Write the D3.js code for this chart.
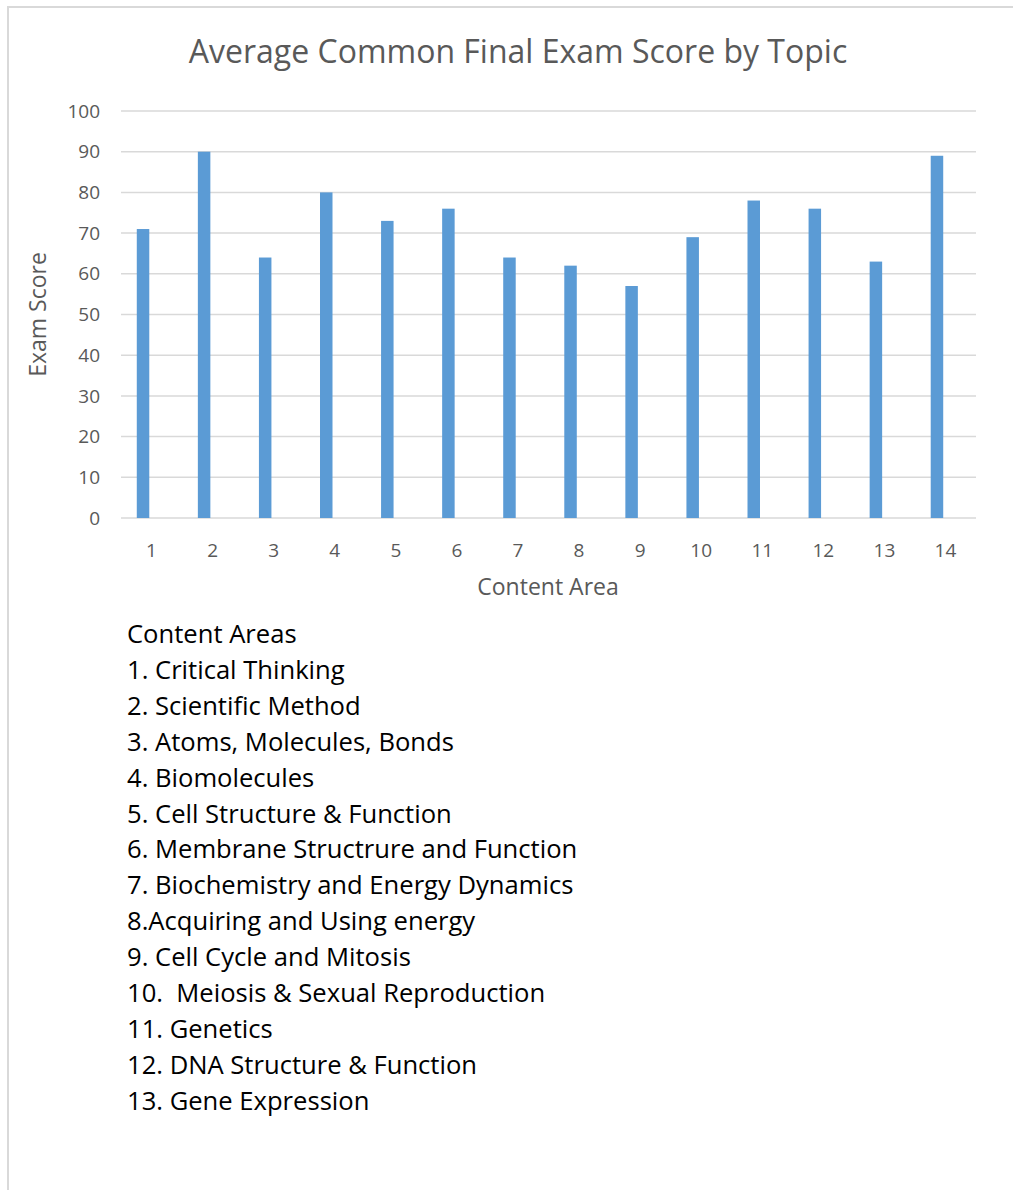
<!DOCTYPE html>
<html>
<head>
<meta charset="utf-8">
<script src="https://cdn.jsdelivr.net/npm/d3@7"></script>
<style>
  body { margin: 0; background: #fff; }
  text { font-family: "Open Sans", Lato, sans-serif; }
</style>
</head>
<body>
<div id="chart"></div>
<script>
// chart data
var topics = ["1","2","3","4","5","6","7","8","9","10","11","12","13","14"];
var scores = [71, 90, 64, 80, 73, 76, 64, 62, 57, 69, 78, 76, 63, 89];
var yTicks = [0, 10, 20, 30, 40, 50, 60, 70, 80, 90, 100];
var legendLines = [
  "Content Areas",
  "1. Critical Thinking",
  "2. Scientific Method",
  "3. Atoms, Molecules, Bonds",
  "4. Biomolecules",
  "5. Cell Structure & Function",
  "6. Membrane Structrure and Function",
  "7. Biochemistry and Energy Dynamics",
  "8.Acquiring and Using energy",
  "9. Cell Cycle and Mitosis",
  "10.  Meiosis & Sexual Reproduction",
  "11. Genetics",
  "12. DNA Structure & Function",
  "13. Gene Expression"
];

var W = 1013, H = 1190;
var svg = d3.select("#chart").append("svg")
  .attr("width", W).attr("height", H);

// outer frame (top and left edge only visible)
svg.append("line").attr("x1", 7).attr("x2", W).attr("y1", 7).attr("y2", 7)
  .attr("stroke", "#d9d9d9").attr("stroke-width", 2);
svg.append("line").attr("x1", 8).attr("x2", 8).attr("y1", 7).attr("y2", H)
  .attr("stroke", "#d9d9d9").attr("stroke-width", 2);

var plot = {left: 121, right: 976, top: 111, bottom: 518};

var x = d3.scaleBand().domain(topics).range([plot.left, plot.right]);
var y = d3.scaleLinear().domain([0, 100]).range([plot.bottom, plot.top]);

// gridlines
svg.append("g").selectAll("line").data(yTicks).join("line")
  .attr("x1", plot.left).attr("x2", plot.right)
  .attr("y1", d => y(d)).attr("y2", d => y(d))
  .attr("stroke", "#d9d9d9").attr("stroke-width", 1.5);

// y labels
svg.append("g").selectAll("text").data(yTicks).join("text")
  .attr("x", 100).attr("y", d => y(d))
  .attr("dy", "0.35em")
  .attr("text-anchor", "end")
  .attr("fill", "#595959").attr("font-size", 19)
  .text(d => d);

// bars
var barW = 12.5, barShift = -8.5;
svg.append("g").selectAll("rect").data(scores).join("rect")
  .attr("x", (d, i) => x(topics[i]) + x.bandwidth() / 2 + barShift - barW / 2)
  .attr("width", barW)
  .attr("y", d => y(d))
  .attr("height", d => y(0) - y(d))
  .attr("fill", "#5b9bd5");

// x labels
svg.append("g").selectAll("text").data(topics).join("text")
  .attr("x", d => x(d) + x.bandwidth() / 2)
  .attr("y", 557)
  .attr("text-anchor", "middle")
  .attr("fill", "#595959").attr("font-size", 19)
  .text(d => d);

// titles
svg.append("text").attr("x", 518).attr("y", 63)
  .attr("text-anchor", "middle").attr("fill", "#595959")
  .attr("font-size", 32).text("Average Common Final Exam Score by Topic");

svg.append("text").attr("x", 548).attr("y", 595)
  .attr("text-anchor", "middle").attr("fill", "#595959")
  .attr("font-size", 23).text("Content Area");

svg.append("text")
  .attr("transform", "translate(46," + ((plot.top + plot.bottom) / 2) + ") rotate(-90)")
  .attr("text-anchor", "middle").attr("fill", "#595959")
  .attr("font-size", 23).text("Exam Score");

// legend list
svg.append("g").selectAll("text").data(legendLines).join("text")
  .attr("x", 127)
  .attr("y", (d, i) => 643 + i * 35.9)
  .attr("fill", "#000").attr("font-size", 25.6)
  .style("white-space", "pre")
  .text(d => d);
</script>
</body>
</html>
